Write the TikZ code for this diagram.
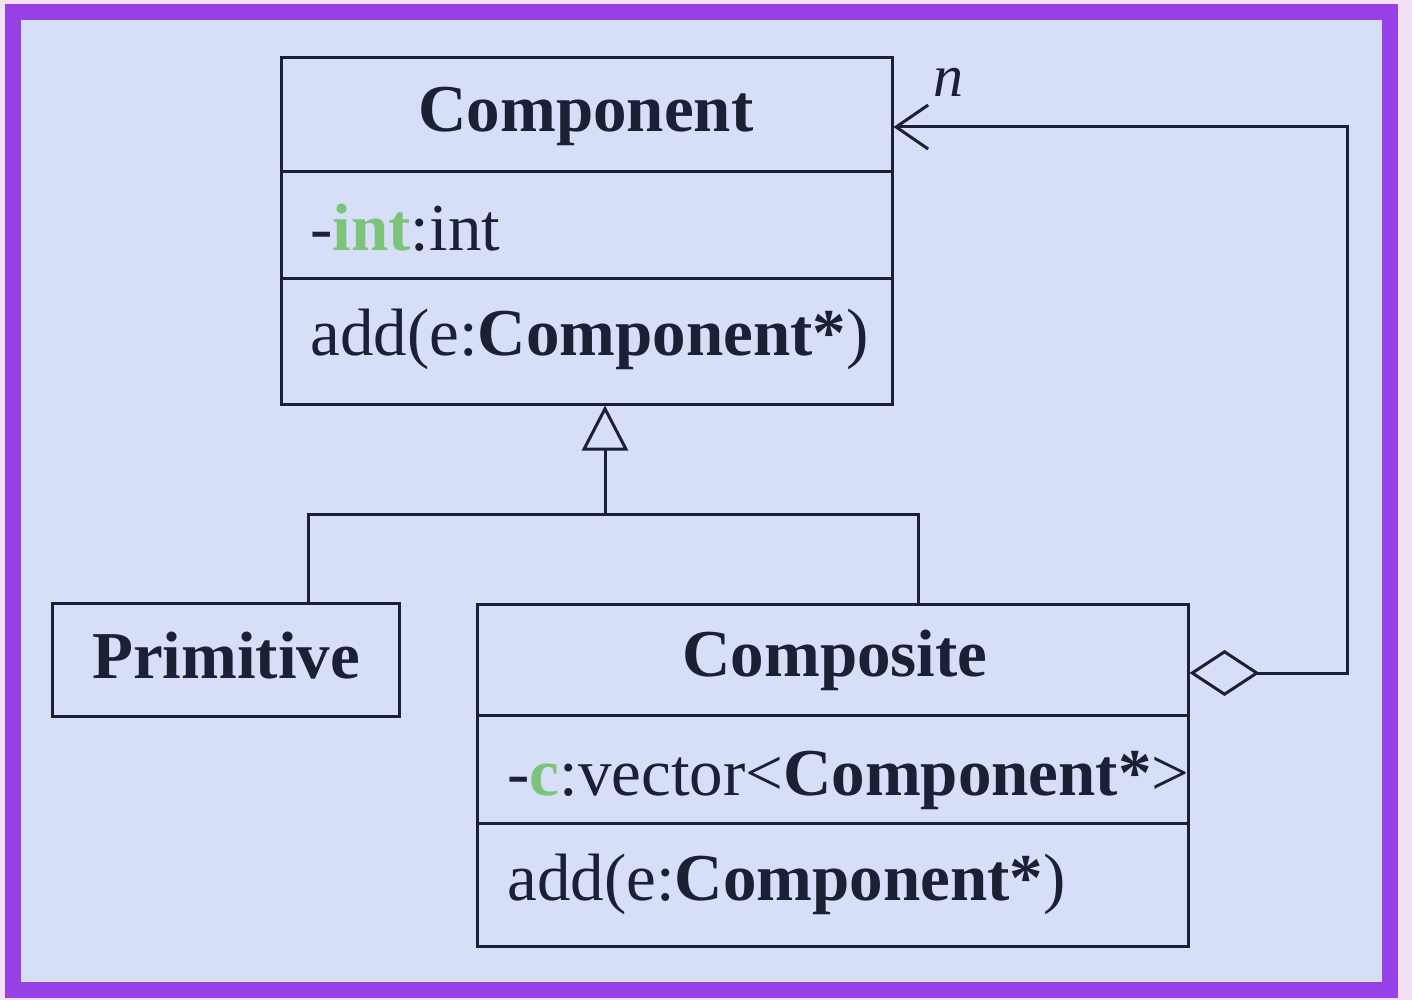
\documentclass[tikz,border=0pt]{standalone}
\usepackage{fontspec}
\setmainfont{Liberation Serif}
\usetikzlibrary{arrows.meta}
\definecolor{ink}{HTML}{1B2035}
\definecolor{bgc}{HTML}{D7DEF7}
\definecolor{outer}{HTML}{F3E2F7}
\definecolor{frame}{HTML}{9640E6}
\definecolor{grn}{HTML}{7CC47A}
\begin{document}
\begin{tikzpicture}[x=0.5pt,y=-0.5pt,
  box/.style={draw=ink,line width=1.5pt,inner sep=0pt},
  txt/.style={font=\fontsize{33.5}{40}\selectfont,text=ink,inner sep=0pt},
  conn/.style={draw=ink,line width=1.5pt}]
\useasboundingbox (0,0) rectangle (1412,1000);
\fill[outer] (0,0) rectangle (1412,1000);
\fill[bgc] (13,12) rectangle (1390,990);
\draw[frame,line width=8pt] (13,12) rectangle (1390,990);

% Component class
\node[box,minimum width=305.5pt,minimum height=173pt] (comp) at (586.5,231) {};
\coordinate (cs1) at (0,172);
\coordinate (cs2) at (0,278);
\draw[conn] (comp.west |- cs1) -- (comp.east |- cs1);
\draw[conn] (comp.west |- cs2) -- (comp.east |- cs2);
\node[txt,anchor=base,font=\fontsize{33.5}{40}\selectfont\bfseries] (ctitle) at (586,132) {Component};
\node[txt,anchor=base west] (cattr) at (310,250) {-\textbf{\color{grn}int}:int};
\node[txt,anchor=base west] (cop) at (310,355) {add(e:\textbf{Component*})};

% Primitive class
\node[box,minimum width=173.5pt,minimum height=56.5pt] (prim) at (225.5,659.5) {};
\node[txt,anchor=base,font=\fontsize{33.5}{40}\selectfont\bfseries] (ptitle) at (226,678) {Primitive};

% Composite class
\node[box,minimum width=355.5pt,minimum height=171pt] (compo) at (832.5,775) {};
\coordinate (ps1) at (0,715);
\coordinate (ps2) at (0,823);
\draw[conn] (compo.west |- ps1) -- (compo.east |- ps1);
\draw[conn] (compo.west |- ps2) -- (compo.east |- ps2);
\node[txt,anchor=base,font=\fontsize{33.5}{40}\selectfont\bfseries] (otitle) at (835,676) {Composite};
\node[txt,anchor=base west] (oattr) at (507,795) {-\textbf{\color{grn}c}:vector<\textbf{Component*}>};
\node[txt,anchor=base west] (oop) at (507,900) {add(e:\textbf{Component*})};

% inheritance
\coordinate (jm) at (605,514);
\coordinate (jl) at (308,514);
\coordinate (jr) at (918,514);
\draw[conn,-{Triangle[open,length=22.5pt,width=23pt,line width=1.5pt]}] (jm) -- (jm |- comp.south);
\draw[conn] (prim.north -| jl) -- (jl) -- (jr) -- (jr |- compo.north);

% aggregation
\coordinate (ag1) at (0,673);
\coordinate (ag2) at (1347,673);
\coordinate (ag3) at (1347,127);
\coordinate (ag4) at (0,127);
\draw[conn,line join=miter,{Diamond[open,length=35pt,width=23pt,line width=1.5pt]}-{Straight Barb[length=16pt,width=22pt,line width=1.5pt]}]
  (compo.east |- ag1) -- (ag2) -- (ag3) -- (comp.east |- ag4);
\node[txt,anchor=base,font=\fontsize{30}{36}\selectfont\itshape] (mult) at (948,97) {n};
\end{tikzpicture}
\end{document}
